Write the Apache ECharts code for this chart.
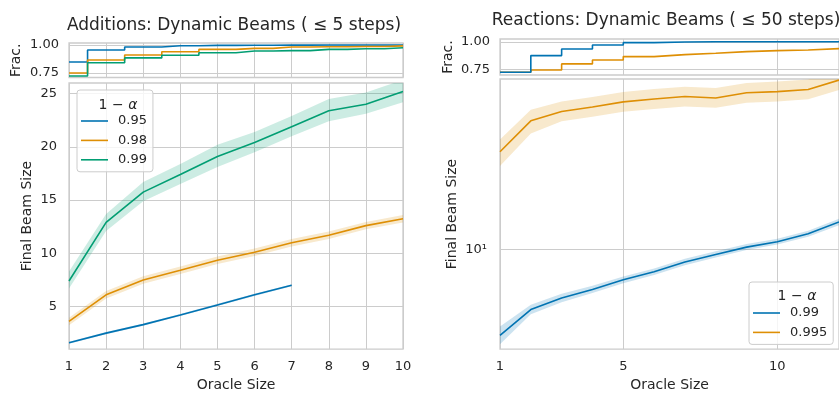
<!DOCTYPE html>
<html>
<head>
<meta charset="utf-8">
<script src="https://cdn.jsdelivr.net/npm/echarts@6/dist/echarts.min.js"></script>
<style>
  html, body { margin: 0; padding: 0; background: #fff; }
  #chart { width: 839px; height: 397px; }
</style>
</head>
<body>
<div id="chart"></div>
<script>
// ---- Additions (left) ----
const addX = [1, 2, 3, 4, 5, 6, 7, 8, 9, 10]
const add95 = [1.6, 2.5, 3.3, 4.2, 5.15, 6.1, 7.0]
const add95Lo = [1.5, 2.4, 3.2, 4.1, 5.05, 6.0, 6.9]
const add95Hi = [1.7, 2.6, 3.4, 4.3, 5.25, 6.2, 7.1]
const add98 = [3.6, 6.1, 7.5, 8.4, 9.35, 10.1, 11.0, 11.7, 12.6, 13.25]
const add98Lo = [3.25, 5.75, 7.15, 8.05, 9.0, 9.75, 10.65, 11.35, 12.25, 12.9]
const add98Hi = [3.95, 6.45, 7.85, 8.75, 9.7, 10.45, 11.35, 12.05, 12.95, 13.6]
const add99 = [7.4, 12.9, 15.75, 17.4, 19.1, 20.4, 21.9, 23.4, 24.0, 25.2]
const add99Lo = [6.7, 12.1, 14.9, 16.5, 18.1, 19.5, 21.0, 22.4, 23.1, 24.2]
const add99Hi = [8.3, 13.7, 16.7, 18.4, 20.2, 21.4, 22.9, 24.5, 25.1, 26.3]
// fraction panel
const addFrac95 = [0.848, 0.955, 0.982, 0.994, 0.997, 0.998, 0.999, 1.0, 1.0, 1.0]
const addFrac98 = [0.75, 0.866, 0.911, 0.94, 0.961, 0.97, 0.982, 0.984, 0.987, 0.992]
const addFrac99 = [0.723, 0.842, 0.885, 0.908, 0.931, 0.946, 0.95, 0.961, 0.966, 0.976]

// ---- Reactions (right) ----
const reaX = [1, 2, 3, 4, 5, 6, 7, 8, 9, 10, 11, 12]
const rea99 = [4.46, 5.69, 6.34, 6.88, 7.53, 8.12, 8.91, 9.57, 10.25, 10.78, 11.62, 13.0]
const rea99Lo = [4.1, 5.45, 6.1, 6.65, 7.3, 7.88, 8.65, 9.3, 9.97, 10.5, 11.3, 12.6]
const rea99Hi = [4.85, 5.95, 6.6, 7.12, 7.78, 8.38, 9.18, 9.85, 10.55, 11.08, 11.95, 13.4]
const rea995 = [25.2, 33.7, 36.8, 38.4, 40.3, 41.4, 42.4, 41.8, 43.9, 44.4, 45.3, 49.5]
const rea995Lo = [22.0, 29.9, 33.6, 35.0, 36.7, 37.7, 38.6, 38.1, 40.0, 40.4, 41.3, 45.1]
const rea995Hi = [28.3, 37.4, 40.4, 42.2, 44.2, 45.5, 46.5, 45.9, 48.2, 48.8, 49.8, 54.5]
const reaFrac99 = [0.725, 0.875, 0.935, 0.971, 0.992, 0.998, 1.0, 1.0, 1.0, 1.0, 1.0, 1.0]
const reaFrac995 = [0.725, 0.745, 0.80, 0.836, 0.866, 0.884, 0.896, 0.911, 0.92, 0.926, 0.938, 0.938]

const BLUE = '#0173b2'
const ORANGE = '#de8f05'
const GREEN = '#029e73'
const TXT = '#262626'
const GRID = '#cccccc'
const FONT = 'DejaVu Sans'

function pairs (xs, ys) {
  return ys.map((y, i) => [xs[i], y])
}

function lineSeries (name, xs, ys, color, idx, step) {
  return {
    name: name,
    type: 'line',
    xAxisIndex: idx,
    yAxisIndex: idx,
    data: pairs(xs, ys),
    step: step || false,
    showSymbol: false,
    symbol: 'none',
    silent: true,
    z: 3,
    itemStyle: { color: color },
    lineStyle: { color: color, width: 1.6 }
  }
}

// 置信带：用一个多边形画出上下界之间的区域
function bandSeries (name, xs, lo, hi, color, idx) {
  return {
    name: name,
    type: 'custom',
    xAxisIndex: idx,
    yAxisIndex: idx,
    data: [[xs[0], lo[0]]],
    silent: true,
    z: 2,
    renderItem (params, api) {
      let pts = []
      for (let i = 0; i < lo.length; i++) pts.push(api.coord([xs[i], hi[i]]))
      for (let i = lo.length - 1; i >= 0; i--) pts.push(api.coord([xs[i], lo[i]]))
      let cs = params.coordSys
      return {
        type: 'polygon',
        shape: { points: pts },
        style: { fill: color, opacity: 0.2 },
        clipPath: { type: 'rect', shape: { x: cs.x, y: cs.y, width: cs.width, height: cs.height } }
      }
    }
  }
}

const labelStyle = { color: TXT, fontSize: 13, fontFamily: FONT }
const nameStyle = { color: TXT, fontSize: 14, fontFamily: FONT }

function xAxis (idx, max, ticks, showLabel) {
  return {
    type: 'value',
    gridIndex: idx,
    min: 1,
    max: max,
    name: showLabel ? 'Oracle Size' : '',
    nameLocation: 'middle',
    nameGap: 28,
    nameTextStyle: nameStyle,
    axisLine: { show: false },
    axisTick: { show: false, customValues: ticks },
    axisLabel: Object.assign({ show: showLabel, margin: 11, customValues: ticks }, labelStyle),
    splitLine: { show: true, lineStyle: { color: GRID, width: 1 } }
  }
}

function yAxis (idx, opt) {
  return Object.assign({
    type: 'value',
    gridIndex: idx,
    nameLocation: 'middle',
    nameTextStyle: nameStyle,
    axisLine: { show: false },
    splitLine: { show: true, lineStyle: { color: GRID, width: 1 } }
  }, opt)
}

function legendTitle (left, top) {
  return {
    text: '1 − {i|α}',
    left: left,
    top: top,
    textAlign: 'center',
    textStyle: {
      color: TXT,
      fontSize: 14,
      fontFamily: FONT,
      fontWeight: 'normal',
      rich: { i: { fontStyle: 'italic', fontSize: 14, fontFamily: FONT, color: TXT } }
    }
  }
}

let myChart = echarts.init(document.getElementById('chart'))
myChart.setOption({
  animation: false,
  backgroundColor: '#fff',
  title: [
    {
      text: 'Additions: Dynamic Beams ( ≤ 5 steps)',
      left: 229, top: 12, textAlign: 'center',
      textStyle: { color: TXT, fontSize: 17, fontWeight: 'normal', fontFamily: FONT }
    },
    {
      text: 'Reactions: Dynamic Beams ( ≤ 50 steps)',
      left: 661, top: 7, textAlign: 'center',
      textStyle: { color: TXT, fontSize: 17, fontWeight: 'normal', fontFamily: FONT }
    },
    legendTitle(113, 93),
    legendTitle(792, 284)
  ],
  legend: [
    {
      data: ['a0.95', 'a0.98', 'a0.99'],
      formatter: n => n.slice(1),
      orient: 'vertical',
      left: 77, top: 90,
      padding: [24, 6, 5, 4],
      itemGap: 5.4,
      itemWidth: 27,
      itemHeight: 1.6,
      icon: 'rect',
      backgroundColor: 'rgba(255,255,255,0.8)',
      borderColor: GRID,
      borderWidth: 1,
      borderRadius: 3,
      textStyle: { color: TXT, fontSize: 13, fontFamily: FONT, lineHeight: 14, padding: [0, 0, 0, 5] }
    },
    {
      data: ['r0.99', 'r0.995'],
      formatter: n => n.slice(1),
      orient: 'vertical',
      left: 749, top: 282,
      padding: [24, 6, 5, 4],
      itemGap: 5.4,
      itemWidth: 27,
      itemHeight: 1.6,
      icon: 'rect',
      backgroundColor: 'rgba(255,255,255,0.8)',
      borderColor: GRID,
      borderWidth: 1,
      borderRadius: 3,
      textStyle: { color: TXT, fontSize: 13, fontFamily: FONT, lineHeight: 14, padding: [0, 0, 0, 5] }
    }
  ],
  grid: [
    { left: 69, top: 43, width: 334, height: 34.5, show: true, borderColor: GRID, borderWidth: 1.3 },
    { left: 69, top: 83, width: 334, height: 270, show: true, borderColor: GRID, borderWidth: 1.3 },
    { left: 500, top: 39, width: 340, height: 36, show: true, borderColor: GRID, borderWidth: 1.3 },
    { left: 500, top: 79, width: 340, height: 273, show: true, borderColor: GRID, borderWidth: 1.3 }
  ],
  xAxis: [
    xAxis(0, 10, [1, 2, 3, 4, 5, 6, 7, 8, 9, 10], false),
    xAxis(1, 10, [1, 2, 3, 4, 5, 6, 7, 8, 9, 10], true),
    xAxis(2, 12, [1, 5, 10], false),
    xAxis(3, 12, [1, 5, 10], true)
  ],
  yAxis: [
    yAxis(0, {
      min: 0.71, max: 1.018, name: 'Frac.', nameGap: 46,
      axisTick: { show: false, customValues: [0.75, 1] },
      axisLabel: Object.assign({ margin: 10, customValues: [0.75, 1], formatter: v => v.toFixed(2) }, labelStyle)
    }),
    yAxis(1, {
      min: 1, max: 26, name: 'Final Beam Size', nameGap: 35,
      axisTick: { show: false, customValues: [5, 10, 15, 20, 25] },
      axisLabel: Object.assign({ margin: 12, customValues: [5, 10, 15, 20, 25] }, labelStyle)
    }),
    yAxis(2, {
      min: 0.70, max: 1.025, name: 'Frac.', nameGap: 45,
      axisTick: { show: false, customValues: [0.75, 1] },
      axisLabel: Object.assign({ margin: 10, customValues: [0.75, 1], formatter: v => v.toFixed(2) }, labelStyle)
    }),
    yAxis(3, {
      type: 'log', logBase: 10,
      min: 3.92, max: 50, name: 'Final Beam Size', nameGap: 41,
      axisTick: { show: false, customValues: [10] },
      axisLabel: Object.assign({ margin: 13, customValues: [10], formatter: () => '10¹' }, labelStyle)
    })
  ],
  series: [
    // 左上：比例阶梯线
    lineSeries('a0.95', addX, addFrac95, BLUE, 0, 'middle'),
    lineSeries('a0.98', addX, addFrac98, ORANGE, 0, 'middle'),
    lineSeries('a0.99', addX, addFrac99, GREEN, 0, 'middle'),
    // 左下
    bandSeries('b95', addX, add95Lo, add95Hi, BLUE, 1),
    bandSeries('b98', addX, add98Lo, add98Hi, ORANGE, 1),
    bandSeries('b99', addX, add99Lo, add99Hi, GREEN, 1),
    lineSeries('a0.95', addX, add95, BLUE, 1),
    lineSeries('a0.98', addX, add98, ORANGE, 1),
    lineSeries('a0.99', addX, add99, GREEN, 1),
    // 右上
    lineSeries('r0.995', reaX, reaFrac995, ORANGE, 2, 'end'),
    lineSeries('r0.99', reaX, reaFrac99, BLUE, 2, 'end'),
    // 右下（对数轴）
    bandSeries('c99', reaX, rea99Lo, rea99Hi, BLUE, 3),
    bandSeries('c995', reaX, rea995Lo, rea995Hi, ORANGE, 3),
    lineSeries('r0.99', reaX, rea99, BLUE, 3),
    lineSeries('r0.995', reaX, rea995, ORANGE, 3)
  ]
})
</script>
</body>
</html>
